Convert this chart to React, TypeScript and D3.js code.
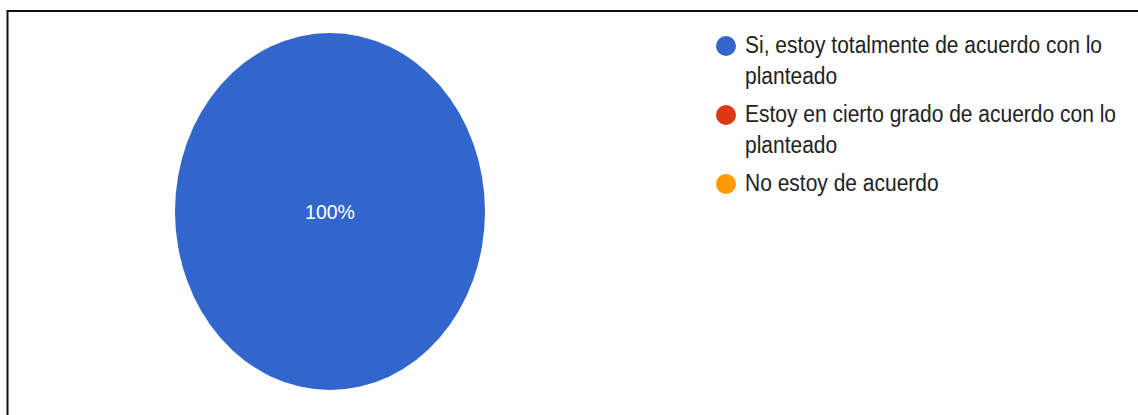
import { useEffect, useRef } from "react";
import * as d3 from "d3";

// Survey answers and their share of responses
const labels = [
  "Si, estoy totalmente de acuerdo con lo planteado",
  "Estoy en cierto grado de acuerdo con lo planteado",
  "No estoy de acuerdo",
];
const values = [100, 0, 0];
const colors = ["#3366cc", "#dc3912", "#ff9900"];

export default function App() {
  const svgRef = useRef<SVGSVGElement>(null);

  useEffect(() => {
    if (!svgRef.current) return;
    const width = 1138;
    const height = 415;
    const font = "Liberation Sans, Arial, sans-serif";

    d3.select(svgRef.current).selectAll("*").remove();
    const svg = d3
      .select(svgRef.current)
      .attr("width", width)
      .attr("height", height);

    svg.append("rect").attr("width", width).attr("height", height).attr("fill", "#fff");

    // frame (top and left edges visible)
    svg
      .append("line")
      .attr("x1", 7)
      .attr("x2", width)
      .attr("y1", 11)
      .attr("y2", 11)
      .attr("stroke", "#111")
      .attr("stroke-width", 2);
    svg
      .append("line")
      .attr("x1", 7.5)
      .attr("x2", 7.5)
      .attr("y1", 10)
      .attr("y2", height)
      .attr("stroke", "#111")
      .attr("stroke-width", 2);

    // pie, squashed horizontally like the screenshot
    const rx = 155;
    const ry = 178.5;
    const stretch = ry / rx;
    const pieData = d3
      .pie<number>()
      .sort(null)
      .value((d) => d)(values);
    const arc = d3.arc<d3.PieArcDatum<number>>().innerRadius(0).outerRadius(rx);

    const g = svg.append("g").attr("transform", `translate(330,211.5)`);
    g.append("g")
      .attr("transform", `scale(1,${stretch})`)
      .selectAll("path")
      .data(pieData.filter((d) => d.value > 0))
      .join("path")
      .attr("fill", (d) => colors[d.index])
      .attr("d", arc as any);

    const full = (d: d3.PieArcDatum<number>) => d.endAngle - d.startAngle >= 2 * Math.PI - 1e-6;
    g.selectAll("text.pct")
      .data(pieData.filter((d) => d.value > 0))
      .join("text")
      .attr("class", "pct")
      .attr("transform", (d) => {
        const [cx, cy] = full(d) ? [0, 0] : arc.centroid(d);
        return `translate(${cx},${cy * stretch}) scale(1,1.05)`;
      })
      .attr("dy", "0.35em")
      .attr("text-anchor", "middle")
      .attr("fill", "#fff")
      .attr("font-family", font)
      .attr("font-size", 19.5)
      .text((d) => `${d.value}%`);

    // legend with wrapped labels
    const legend = svg.append("g").attr("transform", "translate(726,46)");
    const maxWidth = 380;
    const lineH = 31;
    const itemGap = 38;
    const textScale = 1.12;

    // measure with a hidden text node
    const probe = svg
      .append("text")
      .attr("font-family", font)
      .attr("font-size", 21)
      .attr("visibility", "hidden");
    const measure = (s: string) => {
      probe.text(s);
      return (probe.node() as SVGTextElement).getComputedTextLength();
    };

    let y = 0;
    labels.forEach((label, i) => {
      legend
        .append("circle")
        .attr("cx", 0)
        .attr("cy", y)
        .attr("r", 10)
        .attr("fill", colors[i]);

      const lines: string[] = [];
      let current: string[] = [];
      label.split(" ").forEach((w) => {
        const trial = [...current, w].join(" ");
        if (measure(trial) > maxWidth && current.length > 0) {
          lines.push(current.join(" "));
          current = [w];
        } else {
          current.push(w);
        }
      });
      if (current.length) lines.push(current.join(" "));

      lines.forEach((ln, k) => {
        legend
          .append("text")
          .attr("transform", `translate(19,${y + 7 + k * lineH}) scale(1,${textScale})`)
          .attr("fill", "#222")
          .attr("font-family", font)
          .attr("font-size", 21)
          .text(ln);
      });
      y += (lines.length - 1) * lineH + itemGap;
    });
    probe.remove();
  }, []);

  return (
    <svg
      ref={svgRef}
      style={{ position: "absolute", left: 0, top: 0, display: "block" }}
    ></svg>
  );
}
